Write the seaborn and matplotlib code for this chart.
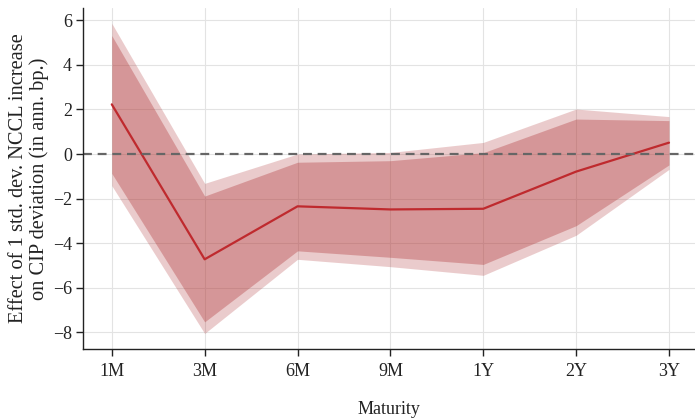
import numpy as np
import pandas as pd
import matplotlib
matplotlib.use("Agg")
import matplotlib.pyplot as plt
import seaborn as sns

maturities = ["1M", "3M", "6M", "9M", "1Y", "2Y", "3Y"]
effect = [2.23, -4.73, -2.35, -2.49, -2.46, -0.79, 0.51]
ci90_upper = [5.32, -1.89, -0.37, -0.30, 0.06, 1.57, 1.50]
ci90_lower = [-0.87, -7.54, -4.35, -4.64, -4.96, -3.22, -0.49]
ci95_upper = [5.87, -1.32, 0.00, 0.07, 0.52, 2.02, 1.68]
ci95_lower = [-1.42, -8.06, -4.73, -5.06, -5.45, -3.65, -0.69]

sns.set_theme(style="whitegrid")
plt.rcParams["font.family"] = ["Liberation Serif", "DejaVu Serif"]

df = pd.DataFrame({"pos": np.arange(len(maturities)), "effect": effect})

fig = plt.figure(figsize=(6.95, 4.19), dpi=100)
ax = fig.add_axes([0.1194, 0.167, 0.8806, 0.814])

fill_color = "#af3234"
line_color = "#bf2a2e"
ax.fill_between(df["pos"], ci95_lower, ci95_upper, color=fill_color, alpha=0.25, lw=0)
ax.fill_between(df["pos"], ci90_lower, ci90_upper, color=fill_color, alpha=0.34, lw=0)
sns.lineplot(data=df, x="pos", y="effect", ax=ax, color=line_color, lw=1.6)
ax.axhline(0, color="#666666", ls="--", lw=1.6, dashes=(4, 2.6))

ax.set_xticks(df["pos"])
ax.set_xticklabels(maturities)
ax.set_xlim(-0.31, 6.28)
ax.set_ylim(-8.76, 6.56)
ax.set_yticks([-8, -6, -4, -2, 0, 2, 4, 6])
ax.set_yticklabels(["\u22128", "\u22126", "\u22124", "\u22122", "0", "2", "4", "6"])

ax.grid(True, color="#e3e3e3", lw=0.8)
for s in ["top", "right"]:
    ax.spines[s].set_visible(False)
for s in ["left", "bottom"]:
    ax.spines[s].set_color("#222222")
    ax.spines[s].set_linewidth(1.0)
ax.tick_params(axis="both", which="both", length=5, width=1, color="#222222",
               labelsize=13, labelcolor="#222222", bottom=True, left=True)
ax.tick_params(axis="x", pad=5)
ax.tick_params(axis="y", pad=3)

ax.set_xlabel("Maturity", fontsize=13, labelpad=15, color="#222222")
ax.set_ylabel("Effect of 1 std. dev. NCCL increase\non CIP deviation (in ann. bp.)",
              fontsize=14.7, color="#222222", labelpad=3, linespacing=1.05)

fig.savefig("out.png", dpi=100)
